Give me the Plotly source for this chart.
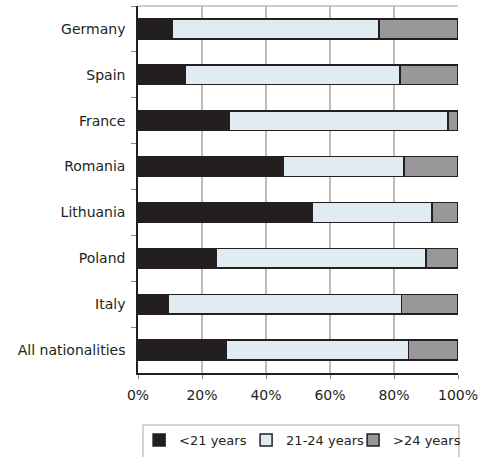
import plotly.graph_objects as go

categories = ["Germany", "Spain", "France", "Romania", "Lithuania", "Poland", "Italy", "All nationalities"]
under21 = [10.7, 14.9, 28.5, 45.5, 54.6, 24.6, 9.3, 27.5]
age21_24 = [64.6, 66.9, 68.4, 37.6, 37.3, 65.4, 73.0, 57.1]
over24 = [24.7, 18.2, 3.1, 16.9, 8.1, 10.0, 17.7, 15.4]
series_names = ["<21 years", "21-24 years", ">24 years"]
x_ticks = [0, 20, 40, 60, 80, 100]
x_tick_labels = ["0%", "20%", "40%", "60%", "80%", "100%"]

colors = ["#231f20", "#e1ebf2", "#98989b"]
dark = "#231f20"
grid = "#bcbcbc"

fig = go.Figure()
for name, vals, col in zip(series_names, [under21, age21_24, over24], colors):
    fig.add_trace(go.Bar(
        y=categories, x=vals, name=name, orientation="h",
        marker=dict(color=col, line=dict(color=dark, width=1.5)),
    ))

shapes = [
    dict(type="rect", xref="paper", yref="paper", x0=0.0156, x1=1.003, y0=-0.1417, y1=-0.26,
         line=dict(color="#a8a8a8", width=1), fillcolor="rgba(0,0,0,0)", layer="below"),
    dict(type="line", xref="paper", yref="paper", x0=0, x1=1, y0=1, y1=1,
         line=dict(color=grid, width=1.5), layer="between"),
]

fig.update_layout(
    template="none",
    barmode="stack",
    bargap=0.57,
    width=484, height=457,
    margin=dict(l=138, r=26, t=6, b=84, autoexpand=False),
    paper_bgcolor="white", plot_bgcolor="white",
    font=dict(family="DejaVu Sans", size=14, color=dark),
    showlegend=True,
    legend=dict(orientation="h", x=0.505, xanchor="center", y=-0.183, yanchor="middle",
                bgcolor="rgba(0,0,0,0)", borderwidth=0, itemwidth=30,
                entrywidth=62, entrywidthmode="pixels",
                traceorder="normal", font=dict(size=13)),
    shapes=shapes,
)
fig.update_xaxes(range=[0, 100], tickvals=x_ticks, ticktext=x_tick_labels,
                 showgrid=True, gridcolor=grid, gridwidth=1.5, automargin=False,
                 showline=True, linecolor=dark, linewidth=1.5,
                 ticks="outside", ticklen=4, tickcolor="#888888", zeroline=False,
                 ticklabelstandoff=4)
fig.update_yaxes(autorange="reversed", showline=True, linecolor=dark, linewidth=1.5,
                 ticks="outside", tickson="boundaries", ticklen=5, tickcolor="#888888",
                 showgrid=False, automargin=False, ticklabelstandoff=8)

fig.write_html("out.html", config={"displayModeBar": False},
               post_script="document.body.style.margin='0';")
